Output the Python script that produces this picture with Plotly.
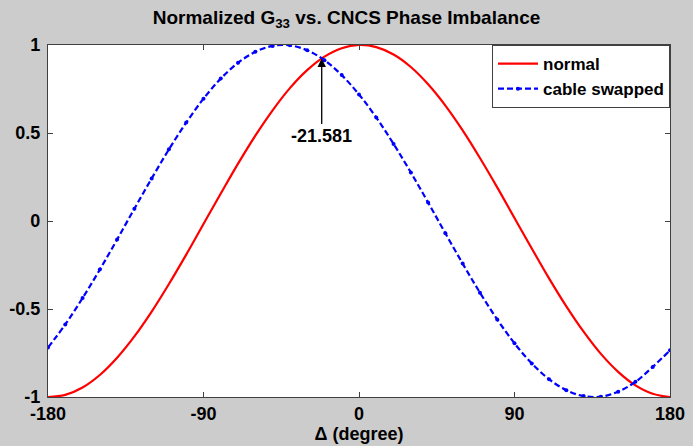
import plotly.graph_objects as go

# Phase imbalance (degrees)
delta_deg = [-180, -170, -160, -150, -140, -130, -120, -110, -100, -90,
             -80, -70, -60, -50, -40, -30, -20, -10, 0, 10,
             20, 30, 40, 50, 60, 70, 80, 90, 100, 110,
             120, 130, 140, 150, 160, 170, 180]

# Normalized G33, normal connection
normal = [-1.000, -0.988, -0.946, -0.875, -0.777, -0.656, -0.515, -0.358, -0.191, -0.017,
          0.156, 0.326, 0.485, 0.629, 0.755, 0.857, 0.934, 0.982, 1.000, 0.988,
          0.946, 0.875, 0.777, 0.656, 0.515, 0.358, 0.191, 0.017, -0.156, -0.326,
          -0.485, -0.629, -0.755, -0.857, -0.934, -0.982, -1.000]

# Normalized G33, cable swapped
cable_swapped = [-0.719, -0.588, -0.438, -0.276, -0.105, 0.070, 0.242, 0.407, 0.559, 0.695,
                 0.809, 0.899, 0.961, 0.995, 0.998, 0.970, 0.914, 0.829, 0.719, 0.588,
                 0.438, 0.276, 0.105, -0.070, -0.242, -0.407, -0.559, -0.695, -0.809, -0.899,
                 -0.961, -0.995, -0.998, -0.970, -0.914, -0.829, -0.735]

x_ticks = [-180, -90, 0, 90, 180]
y_ticks = [-1, -0.5, 0, 0.5, 1]
y_tick_labels = ["-1", "-0.5", "0", "0.5", "1"]

cross_x = -21.581
cross_y = 0.923
cross_label = "-21.581"

FONT = "Liberation Sans, Arial, sans-serif"

fig = go.Figure()
fig.add_trace(go.Scatter(
    x=delta_deg, y=normal, name="<b>normal</b>", mode="lines",
    line=dict(color="#ff0000", width=2.2, shape="spline"),
))
fig.add_trace(go.Scatter(
    x=delta_deg, y=cable_swapped, name="<b>cable swapped</b>", mode="lines+markers",
    line=dict(color="#0000ff", width=2.2, dash="6px,3px", shape="spline"),
    marker=dict(color="#0000ff", size=4),
))

fig.add_annotation(
    x=cross_x, y=cross_y, text="<b>" + cross_label + "</b>",
    showarrow=True, arrowhead=2, arrowsize=1.3, arrowwidth=1.3, arrowcolor="#000000",
    ax=0, ay=77, font=dict(size=18, color="#000000", family=FONT),
)

axis_common = dict(
    showgrid=False, zeroline=False, showline=True, mirror="ticks",
    linecolor="#404040", linewidth=1.2, ticks="inside", ticklen=5,
    tickcolor="#404040", tickfont=dict(size=18, color="#000000", family=FONT),
    automargin=False,
)

fig.update_xaxes(
    range=[-180, 180], tickvals=x_ticks,
    ticktext=["<b>%d</b>" % v for v in x_ticks],
    title=dict(text="<b>\u0394 (degree)</b>", font=dict(size=18, color="#000000", family=FONT), standoff=2),
    **axis_common,
)
fig.update_yaxes(
    range=[-1, 1], tickvals=y_ticks,
    ticktext=["<b>%s</b>" % t for t in y_tick_labels],
    ticklabelstandoff=3,
    **axis_common,
)

fig.update_layout(
    width=693, height=446,
    margin=dict(l=48, r=23, t=45, b=49),
    paper_bgcolor="#cccccc", plot_bgcolor="#ffffff",
    title=dict(
        text="<b>Normalized G<sub>33</sub> vs. CNCS Phase Imbalance</b>",
        x=0.5, xanchor="center", y=0.962, yanchor="middle",
        font=dict(size=19, color="#000000", family=FONT),
    ),
    legend=dict(
        x=1, xanchor="right", y=1, yanchor="top",
        bgcolor="#ffffff", bordercolor="#404040", borderwidth=1,
        font=dict(size=17, color="#000000", family=FONT),
        itemwidth=40, tracegroupgap=0,
    ),
    font=dict(family=FONT),
)

fig.write_html("out.html", config={"displayModeBar": False},
               post_script="document.body.style.margin='0';")
